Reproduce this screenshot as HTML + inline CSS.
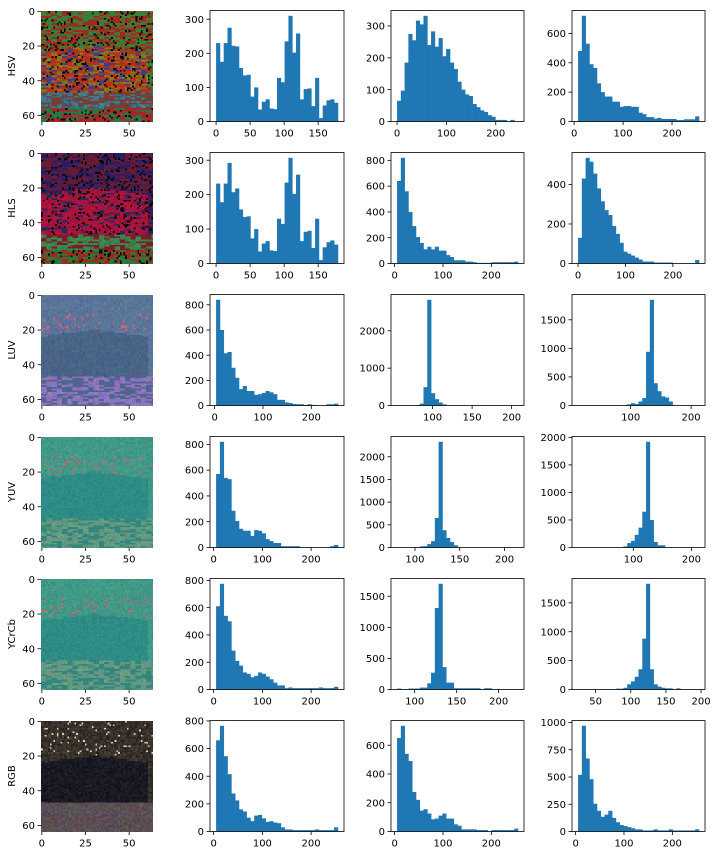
<!DOCTYPE html>
<html><head><meta charset="utf-8">
<style>
html,body{margin:0;padding:0;background:#fff;}
#wrap{position:relative;width:715px;height:856px;overflow:hidden;}
svg{position:absolute;left:0;top:0;}
canvas{position:absolute;image-rendering:pixelated;}
text{font-family:"DejaVu Sans","Liberation Sans",sans-serif;font-size:10px;fill:#000;}
</style></head>
<body>
<div id="wrap">
<svg id="fig" width="715" height="856"></svg>
</div>
<script>
const rowNames=["HSV","HLS","LUV","YUV","YCrCb","RGB"];
// counts per histogram (32 bins)
const hsvH=[230,175,230,275,222,220,157,135,137,73,100,35,58,65,38,36,128,115,235,310,202,258,65,95,97,45,128,10,47,62,65,55];
const hsvS=[65,97,185,275,255,317,305,332,240,283,235,262,205,228,185,165,125,100,85,80,55,45,35,30,20,15,5,5,5,0,5,0];
const hsvV=[480,720,530,390,365,260,200,170,170,135,135,100,105,105,100,100,60,50,30,30,20,25,17,17,17,17,10,10,15,15,15,35];
const hlsH=[232,178,232,292,207,218,157,135,137,73,100,35,58,65,38,36,130,115,235,307,202,258,65,92,95,45,130,10,47,62,67,55];
const hlsL=[640,820,560,400,290,205,160,110,130,110,130,100,100,65,50,25,25,25,15,15,10,5,5,5,5,10,10,10,10,10,10,15];
const hlsS=[130,430,535,515,455,380,315,270,245,190,150,105,60,50,40,30,20,10,10,10,5,5,5,5,5,0,0,0,0,0,0,18];
const luvL=[840,600,415,425,300,220,130,155,115,115,85,90,100,115,105,90,45,45,25,20,12,10,10,5,10,5,0,0,0,10,10,15];
const luvU=[0,0,0,0,0,10,50,490,2830,330,170,80,30,0,0,0,0,0,0,0,0,0,0,0,0,0,0,0,0,0,0,0];
const luvV=[0,0,0,0,0,0,0,0,0,0,0,0,0,20,40,25,70,130,940,1850,390,250,160,140,70,0,0,0,0,0,0,0];
const yuvY=[570,820,540,530,285,205,145,130,130,90,135,130,110,65,50,35,35,10,10,10,10,10,0,0,0,0,0,0,0,0,10,20];
const yuvU=[0,0,0,0,0,5,25,30,75,140,650,2330,380,210,120,50,0,0,0,0,0,0,0,0,0,0,0,0,0,0,0,0];
const yuvV=[0,0,0,0,0,0,0,0,0,0,0,0,20,80,120,230,360,650,1920,500,100,40,40,0,0,0,0,0,0,0,0,0];
const ycY=[610,775,540,500,285,210,175,125,115,90,100,125,115,95,75,50,30,30,10,15,10,10,10,10,10,10,10,15,10,10,10,20];
const ycCr=[15,0,0,15,15,15,30,30,100,270,1310,1700,360,110,110,20,20,20,20,20,20,20,0,20,20,0,0,0,0,0,0,0];
const ycCb=[0,0,0,0,0,0,0,0,0,0,15,15,30,90,140,220,350,880,1830,350,90,50,30,20,20,0,20,0,0,0,0,0];
const rgbR=[660,765,545,415,275,225,160,145,100,75,115,120,95,70,75,65,60,30,15,15,10,10,10,10,10,10,15,10,10,10,10,30];
const rgbG=[650,735,540,490,275,220,145,155,125,85,90,110,125,90,90,50,40,15,15,15,15,10,10,10,0,10,10,10,10,10,10,20];
const rgbB=[520,970,670,480,255,190,135,155,190,125,85,60,50,40,30,20,20,10,10,10,20,10,10,10,20,10,10,10,10,10,10,20];
// data ranges [min,max] per histogram
const ranges=[[0,179],[0,245],[8,255],[0,179],[5,255],[0,255],[3,255],[55,208],[13,213],[5,255],[80,215],[5,213],[5,255],[79,223],[25,197],[5,255],[5,255],[5,255]];
// tick labels
const xTicks=[[0,50,100,150],[0,100,200],[0,100,200],[0,50,100,150],[0,100,200],[0,100,200],[0,100,200],[100,150,200],[100,200],[0,100,200],[100,150,200],[100,200],[0,100,200],[100,150,200],[50,100,150,200],[0,100,200],[0,100,200],[0,100,200]];
const yTicks=[[0,100,200,300],[0,100,200,300],[0,200,400,600],[0,100,200,300],[0,200,400,600,800],[0,200,400],[0,200,400,600,800],[0,1000,2000],[0,500,1000,1500],[0,200,400,600,800],[0,500,1000,1500,2000],[0,500,1000,1500,2000],[0,200,400,600,800],[0,500,1000,1500],[0,500,1000,1500],[0,200,400,600,800],[0,200,400,600],[0,250,500,750,1000]];
const imgTicksX=[0,25,50];
const imgTicksY=[0,20,40,60];
const allCounts=[hsvH,hsvS,hsvV,hlsH,hlsL,hlsS,luvL,luvU,luvV,yuvY,yuvU,yuvV,ycY,ycCr,ycCb,rgbR,rgbG,rgbB];
const chNames=[["h","s","v"],["h","l","s"],["l","u","v"],["y","u","v"],["y","cr","cb"],["r","g","b"]];

const NS="http://www.w3.org/2000/svg";
const svg=document.getElementById('fig');
function mk(tag,attrs,parent){const e=document.createElementNS(NS,tag);for(const k in attrs)e.setAttribute(k,attrs[k]);(parent||svg).appendChild(e);return e;}
const colX=[210,391,572],colW=[134,133,133];
const top0=10.5,rowStep=142,axH=111;
const imgX=41,imgW=111.7;

function drawHist(r,c,idx){
  const x0=colX[c],w=colW[c],y0=top0+r*rowStep,h=axH;
  const counts=allCounts[idx],lo=ranges[idx][0],hi=ranges[idx][1];
  const dmin=lo-0.05*(hi-lo),dmax=hi+0.05*(hi-lo);
  const ymax=Math.max(...counts)*1.05;
  const sx=v=>x0+(v-dmin)/(dmax-dmin)*w;
  const sy=v=>y0+h-v/ymax*h;
  const g=mk('g',{});
  
  
  const n=counts.length,bw=(hi-lo)/n;
  counts.forEach((v,i)=>{
    if(v<=0)return;
    const xa=sx(lo+i*bw),xb=sx(lo+(i+1)*bw);
    const b=mk('rect',{x:xa,y:sy(v),width:xb-xa+0.35,height:sy(0)-sy(v),fill:'#1f77b4'},g);
    
    
  });
  const fr=mk('rect',{x:x0,y:y0,width:w,height:h,fill:'none',stroke:'#000','stroke-width':0.8},g);
  
  
  xTicks[idx].forEach(t=>{const X=sx(t);
    mk('line',{x1:X,x2:X,y1:y0+h,y2:y0+h+3.5,stroke:'#000','stroke-width':0.8},g);
    const tx=mk('text',{x:X,y:y0+h+15,'text-anchor':'middle'},g);tx.textContent=t;
    
    });
  yTicks[idx].forEach(t=>{const Y=sy(t);
    mk('line',{x1:x0-3.5,x2:x0,y1:Y,y2:Y,stroke:'#000','stroke-width':0.8},g);
    const tx=mk('text',{x:x0-6,y:Y+3.6,'text-anchor':'end'},g);tx.textContent=t;
    
    });
}

function rnd(a,b,s){let t=(a*374761393+b*668265263+s*982451653)|0;t=(t^(t>>>13))*1274126177|0;t=t^(t>>>16);return ((t>>>0)%10000)/10000;}
function pix(r,x,y){
  const n=rnd(x,y,r+1),n2=rnd(x,y,r+11),n3=rnd(x,y,r+21);
  const blk=rnd(Math.floor(x/3),y,r+31);
  const carTop=20+Math.round(4*Math.abs(x-30)/30);
  const car=(y>=carTop&&y<=46&&x>=0&&x<=60);
  const road=(y>=47&&y<=55);
  const bottom=y>55;
  if(r===0){
    if(road) return blk<0.5?[40+n*40,90+n2*50,110+n3*50]:[120,60,50];
    if(n<0.1) return [0,0,0];
    if(car) return blk<0.45?[160+n2*40,50,25]:blk<0.8?[110+n2*50,100+n3*30,30]:[60,60,140];
    if(bottom) return blk<0.5?[160,40,40]:[40,120,70];
    return blk<0.4?[150,45,30]:blk<0.75?[50,130,60]:[100,100,40];
  }
  if(r===1){
    if(road) return blk<0.6?[40+n*40,110+n2*40,60+n3*30]:[120,30,40];
    if(n<0.12) return [0,0,0];
    if(car) return blk<0.8?[140+n2*50,20,45+n3*30]:[40,40,90];
    if(bottom) return blk<0.5?[160,40,30]:[40,120,60];
    return blk<0.4?[110,25,45]:blk<0.75?[35,30,100]:[70,30,80];
  }
  if(r===2){
    if(road||bottom) return blk<0.6?[120+n*40,100+n2*30,170+n3*40]:[80,100,140];
    if(car) return [60+n*25,90+n2*20,125+n3*20];
    if(y>10&&y<22&&n<0.07) return [230,90,120];
    return [75+n*30,105+n2*25,140+n3*25];
  }
  if(r===3||r===4){
    if(road||bottom) return blk<0.6?[80+n*40,140+n2*25,115+n3*30]:[50,135,125];
    if(car) return [35+n*20,130+n2*20,125+n3*15];
    if(y>10&&y<22&&n<0.07) return [230,90,110];
    return [50+n*30,140+n2*25,125+n3*20];
  }
  if(road||bottom) return [70+n*40,60+n2*35,65+n3*35];
  if(car) return [15+n*20,15+n*20,25+n*20];
  if(y<20&&n<0.05) return [220,200,180];
  return [30+n*45,30+n*35,25+n*30];
}
function drawImage(r){
  const y0=top0+r*rowStep;
  const cv=document.createElement('canvas');cv.width=64;cv.height=64;
  cv.style.left=imgX+'px';cv.style.top=y0+'px';cv.style.width=imgW+'px';cv.style.height=axH+'px';
  
  
  const ctx=cv.getContext('2d');const id=ctx.createImageData(64,64);
  for(let y=0;y<64;y++)for(let x=0;x<64;x++){const p=pix(r,x,y),k=(y*64+x)*4;id.data[k]=p[0];id.data[k+1]=p[1];id.data[k+2]=p[2];id.data[k+3]=255;}
  ctx.putImageData(id,0,0);
  document.getElementById('wrap').appendChild(cv);
  const g=mk('g',{});
  
  
  const sx=v=>imgX+(v+0.5)/64*imgW, sy=v=>y0+(v+0.5)/64*axH;
  imgTicksX.forEach(t=>{const X=sx(t);mk('line',{x1:X,x2:X,y1:y0+axH,y2:y0+axH+3.5,stroke:'#000','stroke-width':0.8},g);
    const tx=mk('text',{x:X,y:y0+axH+15,'text-anchor':'middle'},g);tx.textContent=t;
    
    });
  imgTicksY.forEach(t=>{const Y=sy(t);mk('line',{x1:imgX-3.5,x2:imgX,y1:Y,y2:Y,stroke:'#000','stroke-width':0.8},g);
    const tx=mk('text',{x:imgX-6,y:Y+3.6,'text-anchor':'end'},g);tx.textContent=t;
    
    });
  const lb=mk('text',{x:15,y:y0+axH/2,'text-anchor':'middle',transform:'rotate(-90 15 '+(y0+axH/2)+')'},g);
  lb.textContent=rowNames[r];
  
  
}
for(let r=0;r<6;r++){drawImage(r);for(let c=0;c<3;c++)drawHist(r,c,r*3+c);}
</script>
</body></html>
